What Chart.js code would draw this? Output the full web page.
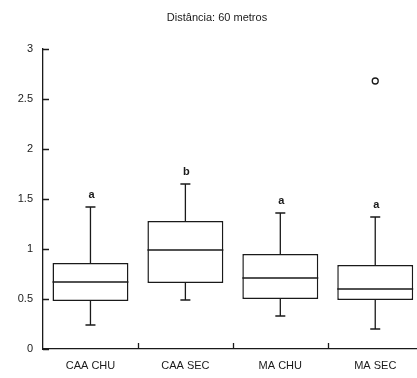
<!DOCTYPE html>
<html>
<head>
<meta charset="utf-8">
<script src="https://cdn.jsdelivr.net/npm/chart.js@4/dist/chart.umd.min.js"></script>
<style>
html,body{margin:0;padding:0;background:#fff;}
#wrap{width:417px;height:378px;position:relative;overflow:hidden;}
</style>
</head>
<body>
<div id="wrap"><canvas id="c" width="428" height="378"></canvas></div>
<script>
const chartTitle = "Distância: 60 metros";
const categories = ["CAA CHU", "CAA SEC", "MA CHU", "MA SEC"];
const whiskerLow = [0.24, 0.49, 0.33, 0.20];
const q1 = [0.48, 0.66, 0.50, 0.49];
const median = [0.67, 0.99, 0.71, 0.60];
const q3 = [0.86, 1.28, 0.95, 0.84];
const whiskerHigh = [1.42, 1.65, 1.36, 1.32];
const outliers = [null, null, null, 2.68];
const groupLetters = ["a", "b", "a", "a"];
const yTicks = [0, 0.5, 1, 1.5, 2, 2.5, 3];
const yTickLabels = ["0", "0.5", "1", "1.5", "2", "2.5", "3"];

const FONT = "'Liberation Sans', Arial, sans-serif";
const INK = "#1a1a1a";

const boxPlugin = {
  id: 'boxExtras',
  afterDatasetsDraw(chart) {
    const ctx = chart.ctx;
    const x = chart.scales.x, y = chart.scales.y;
    const meta = chart.getDatasetMeta(0);
    ctx.save();
    ctx.strokeStyle = INK;
    ctx.lineWidth = 1.3;
    categories.forEach((c, i) => {
      const bar = meta.data[i];
      const cx = x.getPixelForValue(i);
      const half = bar.width / 2;
      const yq1 = y.getPixelForValue(q1[i]);
      const yq3 = y.getPixelForValue(q3[i]);
      const ylo = y.getPixelForValue(whiskerLow[i]);
      const yhi = y.getPixelForValue(whiskerHigh[i]);
      const ymed = y.getPixelForValue(median[i]);
      ctx.beginPath();
      ctx.moveTo(cx, yq3); ctx.lineTo(cx, yhi);
      ctx.moveTo(cx - 5, yhi); ctx.lineTo(cx + 5, yhi);
      ctx.moveTo(cx, yq1); ctx.lineTo(cx, ylo);
      ctx.moveTo(cx - 5, ylo); ctx.lineTo(cx + 5, ylo);
      ctx.moveTo(cx - half, ymed); ctx.lineTo(cx + half, ymed);
      ctx.stroke();
      ctx.fillStyle = INK;
      ctx.font = "bold 11px " + FONT;
      ctx.textAlign = 'center';
      ctx.textBaseline = 'middle';
      ctx.fillText(groupLetters[i], cx + 1, yhi - 12);
    });
    // inward ticks
    const left = chart.chartArea.left, bottom = chart.chartArea.bottom;
    ctx.beginPath();
    yTicks.forEach(v => {
      const py = Math.round(y.getPixelForValue(v)) + 0.5;
      ctx.moveTo(left, py); ctx.lineTo(left + 6, py);
    });
    for (let i = 1; i < categories.length; i++) {
      const px = Math.round((x.getPixelForValue(i - 1) + x.getPixelForValue(i)) / 2) + 0.5;
      ctx.moveTo(px, bottom); ctx.lineTo(px, bottom - 6);
    }
    ctx.stroke();
    // title
    ctx.fillStyle = INK;
    ctx.font = "11px " + FONT;
    ctx.textAlign = 'center';
    ctx.textBaseline = 'middle';
    ctx.fillText(chartTitle, 217, 18);
    ctx.restore();
  }
};

new Chart(document.getElementById('c'), {
  type: 'bar',
  data: {
    labels: categories,
    datasets: [{
      type: 'bar',
      data: q1.map((v, i) => [v, q3[i]]),
      backgroundColor: '#ffffff',
      borderColor: INK,
      borderWidth: 1.5,
      borderSkipped: false,
      barPercentage: 0.8,
      categoryPercentage: 1.0,
      order: 2
    }, {
      type: 'line',
      data: outliers,
      showLine: false,
      pointStyle: 'circle',
      pointRadius: 3,
      pointBorderWidth: 1.3,
      pointBorderColor: INK,
      pointBackgroundColor: '#ffffff',
      order: 1
    }]
  },
  options: {
    responsive: false,
    animation: false,
    events: [],
    layout: { padding: { top: 49, right: 0, left: 0, bottom: 0 } },
    plugins: { legend: { display: false }, title: { display: false }, tooltip: { enabled: false } },
    scales: {
      x: {
        offset: true,
        grid: { display: false, drawTicks: false },
        border: { display: true, color: INK, width: 1.3 },
        ticks: { color: INK, font: { size: 11, family: FONT }, padding: 10, maxRotation: 0 },
        afterFit(s) { s.height = 29; }
      },
      y: {
        min: 0, max: 3,
        afterBuildTicks(s) { s.ticks = yTicks.map(v => ({ value: v })); },
        grid: { display: false, drawTicks: false },
        border: { display: true, color: INK, width: 1.3 },
        ticks: {
          color: INK, font: { size: 11, family: FONT }, padding: 10,
          callback: (v) => yTickLabels[yTicks.indexOf(v)]
        },
        afterFit(s) { s.width = 43; }
      }
    }
  },
  plugins: [boxPlugin]
});
</script>
</body>
</html>
